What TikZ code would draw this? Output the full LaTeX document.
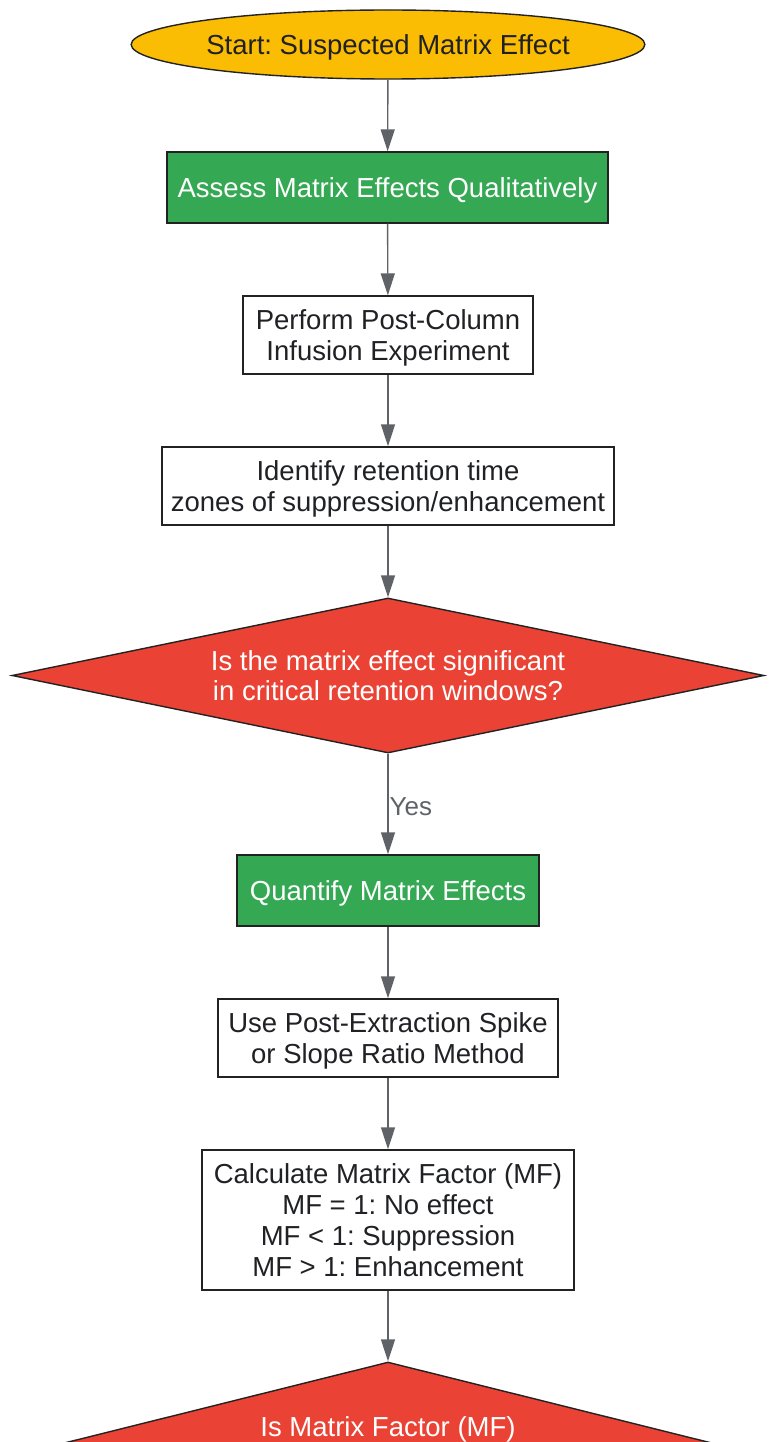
\documentclass[tikz,border=0pt]{standalone}
\usepackage{fontspec}
\setmainfont{Liberation Sans}
\usetikzlibrary{shapes.geometric,arrows.meta}
\definecolor{cyellow}{HTML}{FBBC04}
\definecolor{cgreen}{HTML}{34A853}
\definecolor{cred}{HTML}{EA4335}
\definecolor{cgray}{HTML}{5F6368}
\definecolor{ctext}{HTML}{202124}
\definecolor{cborder}{HTML}{222222}
\tikzset{
  base/.style={draw=cborder, line width=1.4pt, inner sep=0pt, align=center,
    font=\fontsize{27.5}{30.7}\selectfont\frenchspacing, text=ctext, text depth=0pt},
  startbox/.style={base, ellipse, fill=cyellow},
  greenbox/.style={base, rectangle, fill=cgreen, text=white},
  plainbox/.style={base, rectangle, fill=white},
  decision/.style={base, diamond, fill=cred, text=white},
  conn/.style={draw=cgray, line width=1.4pt, -{Triangle[length=22pt,width=14pt]}},
  edgelabel/.style={font=\fontsize{26}{30}\selectfont, text=cgray, inner sep=0pt}
}
\begin{document}
\begin{tikzpicture}[x=1pt,y=-1pt]
\useasboundingbox (0,0) rectangle (772,1442);
\clip (0,0) rectangle (772,1442);
\node[startbox, minimum width=512pt, minimum height=69pt] (start) at (388,44.5) {Start: Suspected Matrix Effect};
\node[greenbox, minimum width=441pt, minimum height=71pt] (assess) at (387.5,187.5) {Assess Matrix Effects Qualitatively};
\node[plainbox, minimum width=290pt, minimum height=78pt] (perform) at (388,335) {Perform Post-Column\\Infusion Experiment};
\node[plainbox, minimum width=452pt, minimum height=78pt] (identify) at (388,486) {Identify retention time\\zones of suppression/enhancement};
\node[decision, aspect=4.85, minimum width=752pt, minimum height=155pt] (dec1) at (388,675.5) {Is the matrix effect significant\\in critical retention windows?};
\node[greenbox, minimum width=302pt, minimum height=71pt] (quantify) at (388,890.5) {Quantify Matrix Effects};
\node[plainbox, minimum width=340pt, minimum height=78pt] (use) at (388,1038) {Use Post-Extraction Spike\\or Slope Ratio Method};
\node[plainbox, minimum width=372pt, minimum height=140pt] (calc) at (388,1220) {Calculate Matrix Factor (MF)\\MF = 1: No effect\\MF < 1: Suppression\\MF > 1: Enhancement};
\node[decision, aspect=4, minimum width=640pt, minimum height=160pt] (dec2) at (388,1442) {};
\node[base, draw=none, text=white] (dec2text) at (388,1427) {Is Matrix Factor (MF)};

\draw[conn] (start) -- (assess);
\draw[conn] (assess) -- (perform);
\draw[conn] (perform) -- (identify);
\draw[conn] (identify) -- (dec1);
\draw[conn] (dec1) -- node[edgelabel, anchor=west, xshift=1pt, yshift=-3pt] {Yes} (quantify);
\draw[conn] (quantify) -- (use);
\draw[conn] (use) -- (calc);
\draw[conn] (calc) -- (dec2);
\end{tikzpicture}
\end{document}
